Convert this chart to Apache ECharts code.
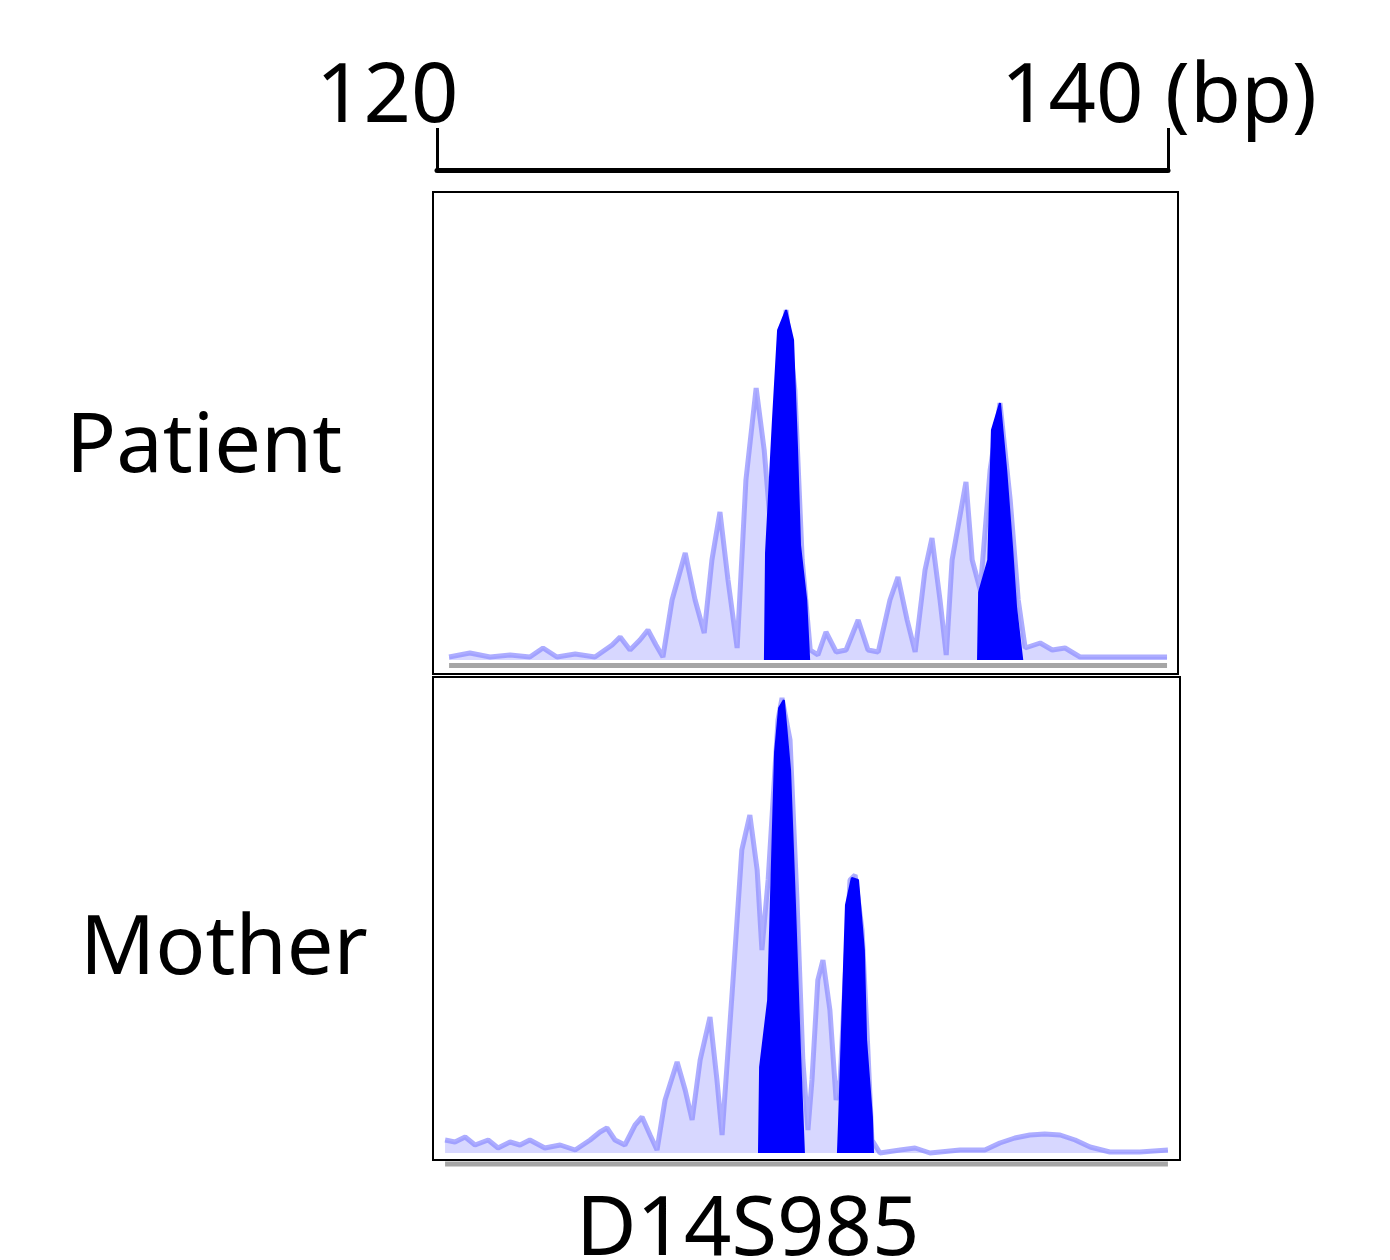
<!DOCTYPE html>
<html>
<head>
<meta charset="utf-8">
<title>D14S985</title>
<script src="https://cdn.jsdelivr.net/npm/echarts@6/dist/echarts.min.js"></script>
<style>
    html, body { margin: 0; background: #fff; }
    #main { width: 1390px; height: 1260px; }
</style>
</head>
<body>
<div id="main"></div>
<script>
// scale bar
var scaleTicks = [120, 140];
var scaleLabels = ['120', '140 (bp)'];
var panelNames = ['Patient', 'Mother'];
var markerName = 'D14S985';

// patient trace (bp, height)
var patientBp = [120.33, 120.90, 121.45, 122.00, 122.54, 122.90, 123.28, 123.78, 124.32, 124.79,
    125.01, 125.28, 125.55, 125.77, 125.99, 126.18, 126.43, 126.79, 127.06, 127.31,
    127.52, 127.74, 127.96, 128.21, 128.45, 128.73, 128.95, 129.11, 129.30, 129.55,
    129.79, 129.99, 130.21, 130.42, 130.64, 130.92, 131.19, 131.52, 131.79, 132.07,
    132.39, 132.61, 132.86, 133.08, 133.35, 133.54, 133.76, 133.93, 134.09, 134.47,
    134.64, 134.86, 135.13, 135.40, 135.68, 135.90, 136.09, 136.50, 136.83, 137.18,
    137.59, 138.14, 138.96, 139.97];
var patientHeight = [0.75, 1.75, 0.75, 1.25, 0.75, 3, 0.75, 1.5, 0.75, 3.75,
    5.75, 2.5, 5, 7.5, 3.75, 0.75, 15, 26.75, 15, 6.75,
    25, 37, 20, 3, 45, 68, 52.5, 35, 67.5, 87.5,
    67.5, 25, 2.5, 1.25, 7, 2, 2.5, 10, 2.5, 2,
    15, 20.75, 10, 2, 22.5, 30.5, 15, 1.25, 25, 44.5,
    25, 17.5, 47.5, 64.25, 40, 15, 3, 4.25, 2.5, 3,
    0.75, 0.75, 0.75, 0.75];

// patient alleles (filled)
var patientAllele1Bp = [128.97, 129.00, 129.19, 129.33, 129.55, 129.74, 129.85, 129.93, 130.10, 130.18];
var patientAllele1Height = [0, 26.75, 60, 82.5, 87.5, 80, 52.5, 28.75, 15, 0];
var patientAllele2Bp = [134.80, 134.83, 135.08, 135.18, 135.40, 135.57, 135.73, 135.84, 136.01];
var patientAllele2Height = [0, 17, 25, 57.5, 64.25, 47.5, 28.25, 13.25, 0];

// mother trace
var motherBp = [120.22, 120.49, 120.77, 121.04, 121.40, 121.67, 122.00, 122.27, 122.54, 122.95,
    123.37, 123.78, 124.19, 124.46, 124.65, 124.87, 125.14, 125.42, 125.61, 125.83,
    126.02, 126.24, 126.57, 126.79, 126.98, 127.20, 127.47, 127.66, 127.80, 128.10,
    128.34, 128.56, 128.76, 128.89, 129.06, 129.33, 129.44, 129.66, 129.85, 130.01,
    130.15, 130.26, 130.42, 130.56, 130.75, 130.92, 131.03, 131.30, 131.44, 131.63,
    131.79, 131.90, 132.12, 132.67, 133.08, 133.49, 134.31, 134.99, 135.40, 135.81,
    136.22, 136.63, 137.05, 137.46, 137.87, 138.41, 139.23, 140.00];
var motherHeight = [3.25, 2.75, 4, 2, 3.25, 1.25, 2.75, 2, 3.25, 1.25,
    2, 0.75, 3.25, 5.25, 6.25, 3.25, 2, 7, 9, 4.5,
    0.75, 13.25, 22.75, 15.75, 8.25, 23.25, 34, 18.25, 4.5, 43.25,
    75.75, 84.5, 70.75, 50.75, 68.25, 108.25, 113.75, 103.25, 63.25, 23.25,
    5.75, 18.25, 43.25, 48.25, 35.75, 13.25, 18.25, 68.25, 69.5, 55.75,
    25.75, 3.25, 0, 0.75, 1.25, 0, 0.75, 0.75, 2.5, 3.75,
    4.5, 4.75, 4.5, 3.25, 1.5, 0.25, 0.25, 0.75];

var motherAllele1Bp = [128.81, 128.84, 129.06, 129.25, 129.36, 129.49, 129.66, 129.79, 129.93, 130.04];
var motherAllele1Height = [0, 21.5, 38.25, 100.25, 111.25, 113.25, 95.75, 63.25, 25.75, 0];
var motherAllele2Bp = [130.97, 131.00, 131.19, 131.35, 131.52, 131.68, 131.74, 131.90, 131.93];
var motherAllele2Height = [0, 7.5, 62, 68.75, 68.25, 50.75, 28.25, 9, 0];

// grey baseline strip under each trace
var patientBaseBp = [120.33, 139.97];
var patientBaseHeight = [-1.4, -1.4];
var motherBaseBp = [120.22, 140.00];
var motherBaseHeight = [-2.75, -2.75];

function zip(xs, ys) {
    var out = [];
    for (var i = 0; i < xs.length; i++) {
        out.push([xs[i], ys[i]]);
    }
    return out;
}

var FONT = '"Noto Sans", sans-serif';

function traceSeries(idx, xs, ys) {
    return {
        type: 'line', xAxisIndex: idx, yAxisIndex: idx,
        data: zip(xs, ys), symbol: 'none', silent: true,
        lineStyle: { color: '#8a8aff', width: 5, opacity: 0.7, join: 'bevel' },
        areaStyle: { color: 'rgba(150,150,255,0.55)' },
        z: 2
    };
}
function alleleSeries(idx, xs, ys) {
    return {
        type: 'line', xAxisIndex: idx, yAxisIndex: idx,
        data: zip(xs, ys), symbol: 'none', silent: true,
        lineStyle: { color: '#0000ff', width: 2 },
        areaStyle: { color: '#0000ff', opacity: 1 },
        z: 3
    };
}
function baseSeries(idx, xs, ys) {
    return {
        type: 'line', xAxisIndex: idx, yAxisIndex: idx,
        data: zip(xs, ys), symbol: 'none', silent: true, clip: false,
        lineStyle: { color: '#a6a6a6', width: 5 },
        z: 1
    };
}

var myChart = echarts.init(document.getElementById('main'));
myChart.setOption({
    animation: false,
    backgroundColor: '#fff',
    grid: [
        { left: 433, top: 192, width: 745, height: 482, show: true, borderColor: '#000', borderWidth: 2, backgroundColor: 'transparent' },
        { left: 433, top: 677, width: 747, height: 483, show: true, borderColor: '#000', borderWidth: 2, backgroundColor: 'transparent' },
        { left: 437, top: 128, width: 731, height: 42, show: false }
    ],
    xAxis: [
        { gridIndex: 0, type: 'value', min: 119.89, max: 140.27, show: false },
        { gridIndex: 1, type: 'value', min: 119.89, max: 140.33, show: false },
        {
            gridIndex: 2, type: 'value', min: scaleTicks[0], max: scaleTicks[1],
            interval: scaleTicks[1] - scaleTicks[0], position: 'bottom',
            axisLine: { show: true, lineStyle: { color: '#000', width: 5 } },
            axisTick: { show: true, inside: true, length: 42, lineStyle: { color: '#000', width: 3 } },
            axisLabel: { show: false },
            splitLine: { show: false }
        }
    ],
    yAxis: [
        { gridIndex: 0, type: 'value', min: -3.5, max: 117, show: false },
        { gridIndex: 1, type: 'value', min: -1.75, max: 119, show: false },
        { gridIndex: 2, type: 'value', min: 0, max: 1, show: false }
    ],
    series: [
        baseSeries(0, patientBaseBp, patientBaseHeight),
        traceSeries(0, patientBp, patientHeight),
        alleleSeries(0, patientAllele1Bp, patientAllele1Height),
        alleleSeries(0, patientAllele2Bp, patientAllele2Height),
        baseSeries(1, motherBaseBp, motherBaseHeight),
        traceSeries(1, motherBp, motherHeight),
        alleleSeries(1, motherAllele1Bp, motherAllele1Height),
        alleleSeries(1, motherAllele2Bp, motherAllele2Height)
    ],
    graphic: [
        { type: 'text', left: 316, top: 57, style: { text: scaleLabels[0], font: '83px ' + FONT, fill: '#000' } },
        { type: 'text', left: 1001, top: 57, style: { text: scaleLabels[1], font: '83px ' + FONT, fill: '#000' } },
        { type: 'text', left: 66, top: 407, style: { text: panelNames[0], font: '83px ' + FONT, fill: '#000' } },
        { type: 'text', left: 80, top: 909, style: { text: panelNames[1], font: '83px ' + FONT, fill: '#000' } },
        { type: 'text', left: 576, top: 1190, style: { text: markerName, font: '83px ' + FONT, fill: '#000' } }
    ]
});
</script>
</body>
</html>
